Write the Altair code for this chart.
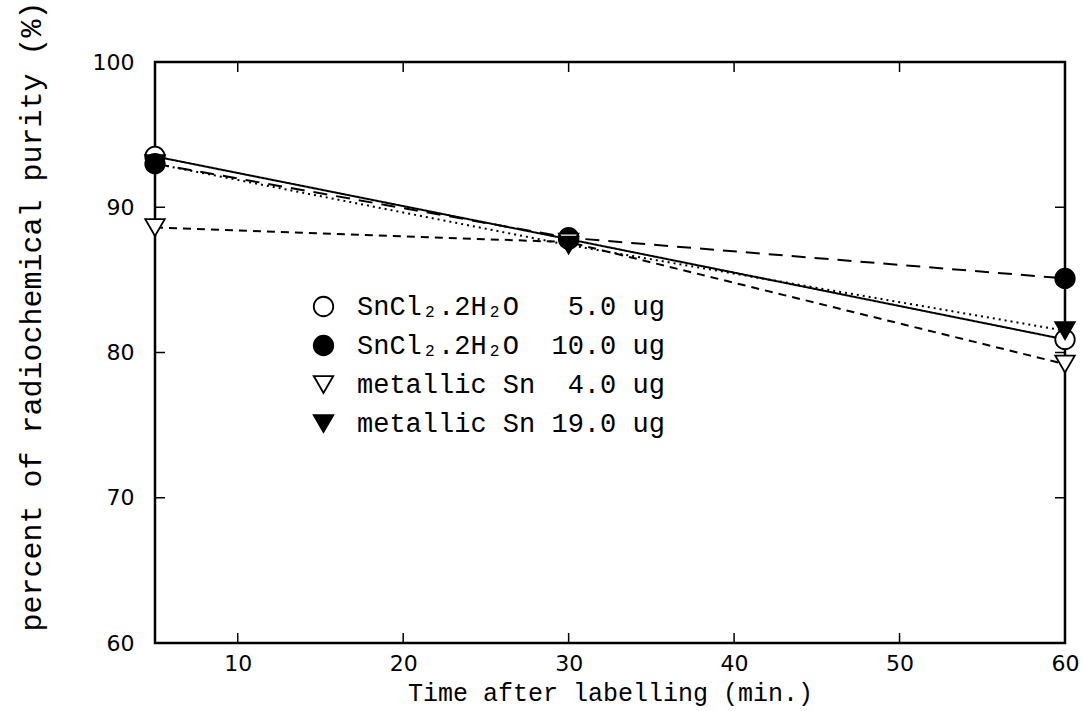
import altair as alt
import pandas as pd

NB = "\u00a0"
series = [
    "SnCl₂.2H₂O" + NB * 3 + "5.0" + NB + "ug",
    "SnCl₂.2H₂O" + NB * 2 + "10.0" + NB + "ug",
    "metallic" + NB + "Sn" + NB * 2 + "4.0" + NB + "ug",
    "metallic" + NB + "Sn" + NB + "19.0" + NB + "ug",
]
times = [5, 30, 60]
sn5 = [93.5, 87.8, 80.9]
sn10 = [93.0, 87.9, 85.1]
met4 = [88.6, 87.6, 79.2]
met19 = [93.0, 87.4, 81.5]

shapes = ["circle", "circle", "triangle-down", "triangle-down"]
fills = ["white", "black", "white", "black"]
strokes = ["black", "black", "black", "black"]
dashes = [[1, 0], [14, 9], [8, 6], [2, 4]]

x_ticks = [10, 20, 30, 40, 50, 60]
y_ticks = [60, 70, 80, 90, 100]
x_inner = [10, 20, 30, 40, 50]
y_inner = [70, 80, 90]

rows = []
for name, vals in zip(series, [sn5, sn10, met4, met19]):
    for t, v in zip(times, vals):
        rows.append({"t": t, "v": v, "series": name, "line": name + " line"})
df = pd.DataFrame(rows)

W, H = 910, 581
SERIF = "Liberation Mono"
xs = alt.Scale(domain=[5, 60], nice=False, zero=False)
ys = alt.Scale(domain=[60, 100], nice=False, zero=False)

lines = alt.Chart(df).mark_line(color="black", strokeWidth=2).encode(
    x=alt.X("t:Q", scale=xs,
            axis=alt.Axis(values=x_ticks, title="Time after labelling (min.)", grid=False,
                          ticks=False, domain=False, labelFont="DejaVu Sans", labelFontSize=22,
                          labelColor="black", labelPadding=10, labelFlush=False,
                          titleFont=SERIF, titleFontSize=25, titleFontWeight="normal",
                          titleColor="black", titlePadding=6)),
    y=alt.Y("v:Q", scale=ys,
            axis=alt.Axis(values=y_ticks, title="percent of radiochemical purity (%)", grid=False,
                          ticks=False, domain=False, labelFont="DejaVu Sans", labelFontSize=22,
                          labelColor="black", labelPadding=21, labelFlush=False,
                          titleFont=SERIF, titleFontSize=30, titleFontWeight="normal",
                          titleColor="black",
                          titleX=-124, titleY=254, titleBaseline="middle", titleAngle=270)),
    detail="line:N",
    strokeDash=alt.StrokeDash("line:N",
                              scale=alt.Scale(domain=[s + " line" for s in series], range=dashes),
                              legend=None),
)

pts = alt.Chart(df).mark_point(filled=False, size=380, strokeWidth=1.8, opacity=1).encode(
    x=alt.X("t:Q", scale=xs),
    y=alt.Y("v:Q", scale=ys),
    shape=alt.Shape("series:N", scale=alt.Scale(domain=series, range=shapes), title=None),
    fill=alt.Fill("series:N", scale=alt.Scale(domain=series, range=fills), title=None),
    stroke=alt.Stroke("series:N", scale=alt.Scale(domain=series, range=strokes), title=None),
)

tdf_x = pd.DataFrame({"t": x_inner})
tdf_y = pd.DataFrame({"v": y_inner})
tick_style = dict(color="black", strokeWidth=1.5)
bt = alt.Chart(tdf_x).mark_rule(**tick_style).encode(x=alt.X("t:Q", scale=xs), y=alt.value(H), y2=alt.value(H - 10))
tt = alt.Chart(tdf_x).mark_rule(**tick_style).encode(x=alt.X("t:Q", scale=xs), y=alt.value(0), y2=alt.value(10))
lt = alt.Chart(tdf_y).mark_rule(**tick_style).encode(y=alt.Y("v:Q", scale=ys), x=alt.value(0), x2=alt.value(10))
rt = alt.Chart(tdf_y).mark_rule(**tick_style).encode(y=alt.Y("v:Q", scale=ys), x=alt.value(W), x2=alt.value(W - 10))

chart = alt.layer(lines, bt, tt, lt, rt, pts).properties(
    width=W, height=H,
    autosize=alt.AutoSizeParams(type="none"),
    padding={"left": 155, "top": 62, "right": 18, "bottom": 68},
    background="white",
).configure_view(stroke="black", strokeWidth=2.5).configure_legend(
    orient="none", legendX=155, legendY=231, padding=0,
    labelFont=SERIF, labelFontSize=27, labelColor="black", labelLimit=600,
    labelOffset=20, symbolSize=380, symbolStrokeWidth=1.8,
    rowPadding=11,
)

chart.save("out.html", embed_options={"renderer": "svg", "actions": False})
